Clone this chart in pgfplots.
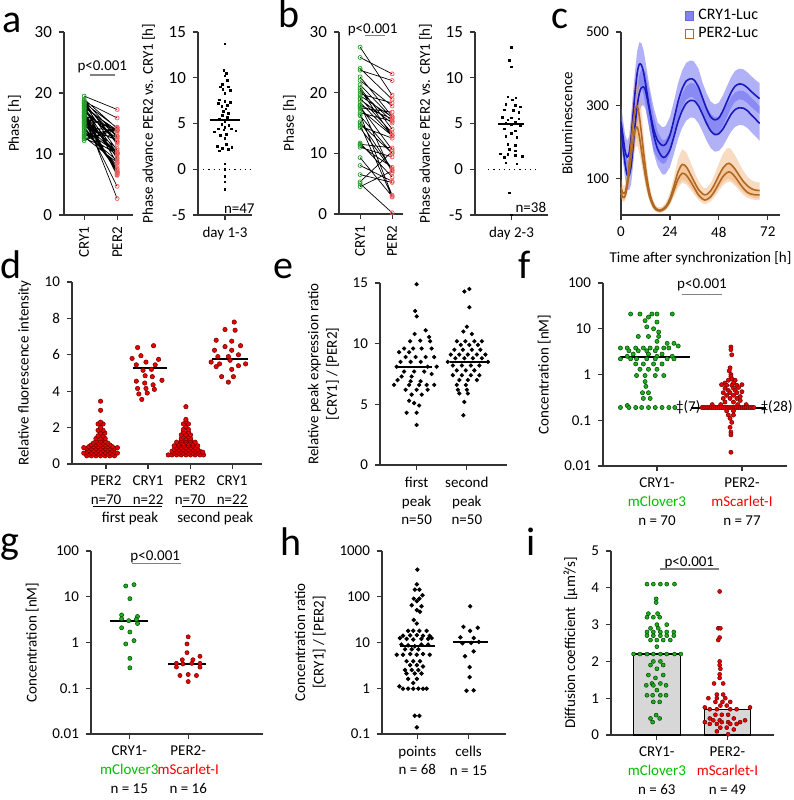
\documentclass[border=0pt]{standalone}
\usepackage{fontspec}
\setmainfont{Carlito}
\usepackage{pgfplots}
\pgfplotsset{compat=1.18}
\usepackage{pgfplotstable}

\definecolor{tgreen}{RGB}{0,190,0}
\definecolor{tred}{RGB}{250,0,0}
\definecolor{mgreen}{RGB}{30,175,30}
\definecolor{gedge}{RGB}{0,70,0}
\definecolor{mred}{RGB}{235,0,0}
\definecolor{redge}{RGB}{110,0,0}
\definecolor{cgreen}{RGB}{40,160,40}
\definecolor{cred}{RGB}{240,90,90}
\definecolor{cryline}{RGB}{25,25,190}
\definecolor{cryband}{RGB}{100,100,240}
\definecolor{perline}{RGB}{175,105,35}
\definecolor{perband}{RGB}{240,165,100}
\definecolor{barg}{RGB}{215,215,215}

\newcommand\tf{\fontsize{7.5}{9.3}\selectfont}
\newcommand\bigtf{\fontsize{8.5}{9.5}\selectfont}
\newcommand\lf{\fontsize{20}{20}\selectfont}

\tikzset{
  meanline/.style={black, line width=1pt},
  pline/.style={black!50, line width=0.6pt},
}
\pgfplotsset{
  panel/.style={scale only axis, anchor=south west,
    axis x line*=bottom, axis y line*=left,
    axis line style={line width=0.6pt, black!80},
    tick style={line width=0.6pt, black!80},
    tick align=outside, major tick length=2.5pt, clip=false,
    tick label style={font=\tf}, label style={font=\tf},
    /pgf/number format/assume math mode=true,
    yminorticks=false, xminorticks=false},
  gdot/.style={only marks, mark=*, mark size=1.1pt, mark options={fill=mgreen, draw=gedge, line width=0.25pt}},
  rdot/.style={only marks, mark=*, mark size=1.1pt, mark options={fill=mred, draw=redge, line width=0.25pt}},
  kdot/.style={only marks, mark=*, mark size=0.85pt, mark options={fill=black, draw=black}},
  sdot/.style={only marks, mark=square*, mark size=0.4pt, mark options={fill=black, draw=black}},
}

\begin{document}
\pgfplotstableread{
t u l
0 255 235
1 215 185
2 175 140
3 158 110
4 170 108
5 215 135
6 280 190
7 340 250
8 390 300
9 412 333
10 410 348
11 392 350
12 360 340
14 290 285
16 235 220
18 203 180
20 191 160
21 190 157
22 194 160
24 218 178
26 262 215
28 310 255
30 345 285
32 366 305
34 372 313
35 372 313
36 368 312
38 350 298
40 320 275
42 290 250
44 268 230
46 260 220
48 265 222
50 285 235
52 310 255
54 335 275
56 352 288
58 358 293
60 356 292
62 348 285
64 337 273
66 327 262
68 318 250
}\tcry
\pgfplotstableread{
t p q
0 75 60
1 60 48
2 62 52
3 90 75
4 140 115
5 200 160
6 255 205
7 290 235
8 298 240
9 270 215
10 225 178
11 175 140
12 130 105
13 92 75
14 62 50
15 42 34
16 28 22
17 19 15
18 15 12
19 14 11
20 15 12
22 24 20
24 45 38
26 80 68
28 118 98
30 138 114
32 132 109
34 112 93
36 90 74
38 70 55
40 58 44
41 55 41
42 56 42
44 66 50
46 85 66
48 108 86
50 128 105
52 140 116
53 141 118
54 138 116
56 125 104
58 108 88
60 92 73
62 80 62
64 72 57
66 68 55
68 67 55
}\tper
\begin{tikzpicture}
\useasboundingbox (0,0) rectangle (397pt,-400pt);
% panel letters
\node[anchor=base west, inner sep=0pt, font=\lf] at (1pt,-16pt) {a};
\node[anchor=base west, inner sep=0pt, font=\lf] at (139pt,-13.5pt) {b};
\node[anchor=base west, inner sep=0pt, font=\lf] at (275.5pt,-14pt) {c};
\node[anchor=base west, inner sep=0pt, font=\lf] at (0pt,-139pt) {d};
\node[anchor=base west, inner sep=0pt, font=\lf] at (136.5pt,-139pt) {e};
\node[anchor=base west, inner sep=0pt, font=\lf] at (259pt,-139pt) {f};
\node[anchor=base west, inner sep=0pt, font=\lf] at (0pt,-276.5pt) {g};
\node[anchor=base west, inner sep=0pt, font=\lf] at (140pt,-277.5pt) {h};
\node[anchor=base west, inner sep=0pt, font=\lf] at (263pt,-277.5pt) {i};

% ---------- a left
\begin{axis}[panel, at={(32pt,-107.5pt)}, width=34.5pt, height=91.5pt,
  xmin=-0.61, xmax=1.48, ymin=0, ymax=30, ytick={0,10,20,30},
  yticklabel style={font=\bigtf},
  xtick={0,1}, xticklabels={CRY1,PER2}, xticklabel style={rotate=90, anchor=east},
  ylabel={Phase [h]}]
\addplot[black, line width=0.35pt, unbounded coords=jump] coordinates {
(0,16.4)(1,2.7)(nan,nan)(0,15.5)(1,4.7)(nan,nan)(0,17.0)(1,6.5)(nan,nan)(0,16.8)(1,6.6)(nan,nan)
(0,16.5)(1,6.8)(nan,nan)(0,16.2)(1,6.9)(nan,nan)(0,17.5)(1,8.5)(nan,nan)(0,16.0)(1,7.0)(nan,nan)
(0,15.8)(1,7.1)(nan,nan)(0,17.8)(1,9.2)(nan,nan)(0,15.3)(1,7.0)(nan,nan)(0,18.2)(1,10.6)(nan,nan)
(0,15.0)(1,7.6)(nan,nan)(0,16.7)(1,9.4)(nan,nan)(0,14.5)(1,7.3)(nan,nan)(0,17.2)(1,10.2)(nan,nan)
(0,18.5)(1,11.6)(nan,nan)(0,14.2)(1,7.6)(nan,nan)(0,16.1)(1,10.0)(nan,nan)(0,18.8)(1,12.9)(nan,nan)
(0,13.8)(1,8.1)(nan,nan)(0,17.4)(1,11.9)(nan,nan)(0,15.6)(1,10.2)(nan,nan)(0,18.0)(1,12.8)(nan,nan)
(0,14.9)(1,10.0)(nan,nan)(0,19.0)(1,14.2)(nan,nan)(0,13.5)(1,8.9)(nan,nan)(0,16.9)(1,12.5)(nan,nan)
(0,17.9)(1,13.5)(nan,nan)(0,15.2)(1,10.9)(nan,nan)(0,12.8)(1,8.6)(nan,nan)(0,18.4)(1,14.3)(nan,nan)
(0,14.0)(1,10.2)(nan,nan)(0,17.6)(1,13.9)(nan,nan)(0,13.3)(1,9.9)(nan,nan)(0,18.6)(1,15.9)(nan,nan)
(0,14.7)(1,12.2)(nan,nan)(0,16.3)(1,13.9)(nan,nan)(0,12.6)(1,10.3)(nan,nan)(0,19.5)(1,17.3)(nan,nan)
(0,15.9)(1,13.9)(nan,nan)(0,14.4)(1,13.8)(nan,nan)(0,13.0)(1,13.0)(nan,nan)(0,13.2)(1,14.0)(nan,nan)
(0,12.5)(1,13.9)(nan,nan)(0,12.2)(1,14.4)(nan,nan)(0,18.3)(1,12.0)};
\addplot[only marks, mark=o, mark size=1pt, mark options={draw=cgreen, line width=0.35pt}] coordinates {
(0,16.4)(0,15.5)(0,17.0)(0,16.8)(0,16.5)(0,16.2)(0,17.5)(0,16.0)(0,15.8)(0,17.8)(0,15.3)(0,18.2)(0,15.0)(0,16.7)(0,14.5)(0,17.2)(0,18.5)(0,14.2)(0,16.1)(0,18.8)(0,13.8)(0,17.4)(0,15.6)(0,18.0)(0,14.9)(0,19.0)(0,13.5)(0,16.9)(0,17.9)(0,15.2)(0,12.8)(0,18.4)(0,14.0)(0,17.6)(0,13.3)(0,18.6)(0,14.7)(0,16.3)(0,12.6)(0,19.5)(0,15.9)(0,14.4)(0,13.0)(0,13.2)(0,12.5)(0,12.2)(0,18.3)};
\addplot[only marks, mark=o, mark size=1pt, mark options={draw=cred, line width=0.35pt}] coordinates {
(1,2.7)(1,4.7)(1,6.5)(1,6.6)(1,6.8)(1,6.9)(1,8.5)(1,7.0)(1,7.1)(1,9.2)(1,7.0)(1,10.6)(1,7.6)(1,9.4)(1,7.3)(1,10.2)(1,11.6)(1,7.6)(1,10.0)(1,12.9)(1,8.1)(1,11.9)(1,10.2)(1,12.8)(1,10.0)(1,14.2)(1,8.9)(1,12.5)(1,13.5)(1,10.9)(1,8.6)(1,14.3)(1,10.2)(1,13.9)(1,9.9)(1,15.9)(1,12.2)(1,13.9)(1,10.3)(1,17.3)(1,13.9)(1,13.8)(1,13.0)(1,14.0)(1,13.9)(1,14.4)(1,12.0)};
\node[font=\tf] at (axis cs:0.55,24.3) {p<0.001};
\draw[pline] (axis cs:0.18,22.95) -- (axis cs:0.94,22.95);
\end{axis}

% ---------- a right
\begin{axis}[panel, at={(99pt,-107.5pt)}, width=27pt, height=91.5pt,
  xmin=-1, xmax=1, ymin=-5, ymax=15, ytick={-5,0,5,10,15},
  yticklabel style={font=\bigtf},
  xtick={0}, xticklabels={day 1-3},
  ylabel={Phase advance PER2 vs. CRY1 [h]}]
\addplot[black, line width=0.6pt, dash pattern=on 0.6pt off 2pt] coordinates {(-0.81,0)(0.93,0)};
\addplot[meanline] coordinates {(-0.56,5.4)(0.56,5.4)};
\addplot[sdot] coordinates {
(0,13.7)(-0.04,10.8)(0.06,10.5)(0,10.2)(0.1,9.7)(-0.1,9.3)(-0.16,9.0)(0.12,9.0)(-0.08,8.7)(0.2,8.6)(0,8.3)(-0.2,7.6)(0,7.4)(0.2,7.3)(-0.24,7.2)(0.1,7.0)(-0.12,6.9)(0.04,6.6)(-0.06,6.3)(0.12,6.1)(-0.1,5.9)(0.08,5.7)(-0.2,5.5)(0.2,5.4)(0,5.2)(-0.12,4.9)(0.14,4.8)(0,4.6)(-0.24,4.4)(0.24,4.4)(-0.04,4.3)(0.4,4.2)(-0.4,4.1)(0.06,3.8)(-0.16,3.7)(0,3.4)(0.06,2.7)(-0.28,2.5)(0.26,2.4)(-0.1,2.3)(0.12,2.2)(-0.2,2.0)(0,0.6)(0,0)(0,-0.8)(0,-1.4)(0,-2.2)};
\node[font=\tf, anchor=east, inner sep=0pt] at (axis cs:1.11,-4.35) {n=47};
\end{axis}

% ---------- b left
\begin{axis}[panel, at={(169.5pt,-107pt)}, width=32pt, height=91pt,
  xmin=-0.66, xmax=1.34, ymin=0, ymax=30, ytick={0,10,20,30},
  yticklabel style={font=\bigtf},
  xtick={0,1}, xticklabels={CRY1,PER2}, xticklabel style={rotate=90, anchor=east},
  ylabel={Phase [h]}]
\addplot[black, line width=0.35pt, unbounded coords=jump] coordinates {
(0,16.4)(1,3.1)(nan,nan)(0,14.7)(1,2.8)(nan,nan)(0,18.0)(1,6.8)(nan,nan)(0,27.5)(1,19.6)(nan,nan)
(0,15.2)(1,7.4)(nan,nan)(0,20.5)(1,12.9)(nan,nan)(0,17.7)(1,10.6)(nan,nan)(0,14.2)(1,7.2)(nan,nan)
(0,22.6)(1,16.1)(nan,nan)(0,9.3)(1,2.9)(nan,nan)(0,16.2)(1,10.0)(nan,nan)(0,19.1)(1,13.4)(nan,nan)
(0,11.7)(1,6.1)(nan,nan)(0,21.3)(1,15.8)(nan,nan)(0,18.4)(1,13.0)(nan,nan)(0,24.0)(1,18.9)(nan,nan)
(0,15.0)(1,10.0)(nan,nan)(0,20.2)(1,15.3)(nan,nan)(0,5.0)(1,0.2)(nan,nan)(0,17.3)(1,12.9)(nan,nan)
(0,22.0)(1,17.8)(nan,nan)(0,18.9)(1,15.0)(nan,nan)(0,11.3)(1,7.7)(nan,nan)(0,19.5)(1,16.0)(nan,nan)
(0,25.8)(1,23.1)(nan,nan)(0,8.0)(1,5.4)(nan,nan)(0,17.9)(1,15.7)(nan,nan)(0,14.5)(1,12.5)(nan,nan)
(0,23.7)(1,22.0)(nan,nan)(0,11.0)(1,9.4)(nan,nan)(0,19.8)(1,18.3)(nan,nan)(0,16.7)(1,15.3)(nan,nan)
(0,6.5)(1,5.2)(nan,nan)(0,17.5)(1,16.8)(nan,nan)(0,11.5)(1,10.9)(nan,nan)(0,4.5)(1,7.1)(nan,nan)
(0,5.3)(1,10.3)(nan,nan)(0,20.8)(1,14.0)};
\addplot[only marks, mark=o, mark size=1pt, mark options={draw=cgreen, line width=0.35pt}] coordinates {
(0,16.4)(0,14.7)(0,18.0)(0,27.5)(0,15.2)(0,20.5)(0,17.7)(0,14.2)(0,22.6)(0,9.3)(0,16.2)(0,19.1)(0,11.7)(0,21.3)(0,18.4)(0,24.0)(0,15.0)(0,20.2)(0,5.0)(0,17.3)(0,22.0)(0,18.9)(0,11.3)(0,19.5)(0,25.8)(0,8.0)(0,17.9)(0,14.5)(0,23.7)(0,11.0)(0,19.8)(0,16.7)(0,6.5)(0,17.5)(0,11.5)(0,4.5)(0,5.3)(0,20.8)};
\addplot[only marks, mark=o, mark size=1pt, mark options={draw=cred, line width=0.35pt}] coordinates {
(1,3.1)(1,2.8)(1,6.8)(1,19.6)(1,7.4)(1,12.9)(1,10.6)(1,7.2)(1,16.1)(1,2.9)(1,10.0)(1,13.4)(1,6.1)(1,15.8)(1,13.0)(1,18.9)(1,10.0)(1,15.3)(1,0.2)(1,12.9)(1,17.8)(1,15.0)(1,7.7)(1,16.0)(1,23.1)(1,5.4)(1,15.7)(1,12.5)(1,22.0)(1,9.4)(1,18.3)(1,15.3)(1,5.2)(1,16.8)(1,10.9)(1,7.1)(1,10.3)(1,14.0)};
\node[font=\tf] at (axis cs:0.39,30.3) {p<0.001};
\draw[pline] (axis cs:0.16,29.4) -- (axis cs:0.78,29.4);
\end{axis}

% ---------- b right
\begin{axis}[panel, at={(237.5pt,-107.5pt)}, width=36.5pt, height=91.5pt,
  xmin=-1, xmax=1, ymin=-5, ymax=15, ytick={-5,0,5,10,15},
  yticklabel style={font=\bigtf},
  xtick={0}, xticklabels={day 2-3},
  ylabel={Phase advance PER2 vs. CRY1 [h]}]
\addplot[black, line width=0.6pt, dash pattern=on 0.6pt off 2pt] coordinates {(-0.64,0)(0.69,0)};
\addplot[meanline] coordinates {(-0.36,4.9)(0.35,4.9)};
\addplot[sdot] coordinates {
(0,13.3)(-0.05,11.9)(0,11.2)(-0.1,7.9)(0.12,7.8)(0.02,7.6)(-0.15,7.1)(0.1,7.0)(0.25,6.8)(-0.2,6.5)(0.05,6.4)(0.2,6.2)(-0.25,5.7)(0,5.6)(0.2,5.5)(-0.1,5.4)(0.1,5.1)(-0.15,5.0)(0,4.9)(0.25,4.8)(-0.2,4.4)(0.1,4.2)(0,3.9)(-0.15,3.6)(0.15,3.5)(-0.1,2.7)(0.1,2.6)(-0.05,2.2)(0.1,2.0)(-0.3,1.7)(-0.1,1.6)(0.1,1.5)(0.3,1.4)(-0.2,1.3)(-0.15,0.7)(0.15,0.6)(-0.05,-2.6)(0,-5.0)};
\node[font=\tf, anchor=east, inner sep=0pt] at (axis cs:0.96,-4.2) {n=38};
\end{axis}

% ---------- c
\begin{axis}[panel, at={(310.5pt,-107.5pt)}, width=79.5pt, height=91.5pt,
  xmin=0, xmax=78, ymin=0, ymax=500, xtick={0,24,48,72}, ytick={100,300,500},
  xlabel={Time after synchronization [h]}, ylabel={Bioluminescence},
  legend style={draw=none, fill=none, at={(0.40,1.15)}, anchor=north west,
    font=\fontsize{8}{8}\selectfont, row sep=-1.5pt, inner sep=0pt, cells={anchor=west}},
  legend image code/.code={\draw[#1] (0pt,-2.2pt) rectangle (4pt,2.2pt);}]
\addlegendimage{fill=cryband!80, draw=cryband, line width=0.5pt}
\addlegendentry{CRY1-Luc}
\addlegendimage{fill=white, draw=perline, line width=0.7pt}
\addlegendentry{PER2-Luc}
\addplot[fill=cryband, fill opacity=0.5, draw=none] coordinates {
(0,300)(1,260)(2,220)(3,203)(4,215)(5,275)(6,340)(7,400)(8,450)(9,472)(10,470)(11,452)(12,420)(14,350)(16,295)(18,253)(20,241)(21,240)(22,244)(24,268)(26,312)(28,360)(30,395)(32,416)(34,422)(35,422)(36,418)(38,400)(40,362)(42,332)(44,310)(46,302)(48,307)(50,327)(52,352)(54,377)(56,394)(58,400)(60,398)(62,390)(64,379)(66,369)(68,360)
(68,276)(66,285)(64,295)(62,306)(60,314)(58,316)(56,310)(54,293)(52,268)(50,243)(48,223)(46,218)(44,226)(42,248)(40,278)(38,300)(36,318)(35,322)(34,322)(32,316)(30,295)(28,260)(26,212)(24,168)(22,144)(21,140)(20,141)(18,153)(16,175)(14,230)(12,300)(11,332)(10,350)(9,352)(8,330)(7,280)(6,220)(5,155)(4,125)(3,113)(2,130)(1,170)(0,210)} -- cycle;
\addplot[fill=cryband, fill opacity=0.5, draw=none] coordinates {
(0,275)(1,225)(2,180)(3,150)(4,148)(5,185)(6,240)(7,300)(8,350)(9,383)(10,398)(11,400)(12,390)(14,335)(16,270)(18,227)(20,207)(21,204)(22,207)(24,225)(26,262)(28,302)(30,332)(32,352)(34,360)(35,360)(36,359)(38,345)(40,322)(42,297)(44,277)(46,267)(48,269)(50,282)(52,302)(54,322)(56,335)(58,340)(60,339)(62,332)(64,320)(66,309)(68,297)
(68,203)(66,215)(64,226)(62,238)(60,245)(58,246)(56,241)(54,228)(52,208)(50,188)(48,175)(46,173)(44,183)(42,203)(40,228)(38,251)(36,265)(35,266)(34,266)(32,258)(30,238)(28,208)(26,168)(24,131)(22,113)(21,110)(20,113)(18,133)(16,170)(14,235)(12,290)(11,300)(10,298)(9,283)(8,250)(7,200)(6,140)(5,85)(4,68)(3,70)(2,100)(1,145)(0,195)} -- cycle;
\addplot[fill=perband, fill opacity=0.4, draw=none] coordinates {
(0,99)(1,80)(2,82)(3,118)(4,182)(5,259)(6,329)(7,374)(8,384)(9,348)(10,290)(11,226)(12,169)(13,121)(14,82)(15,57)(16,39)(17,27)(18,22)(19,21)(20,22)(22,34)(24,61)(26,105)(28,154)(30,180)(32,172)(34,146)(36,118)(38,93)(40,77)(41,73)(42,74)(44,87)(46,112)(48,141)(50,167)(52,182)(53,183)(54,180)(56,163)(58,141)(60,121)(62,105)(64,95)(66,90)(68,89)
(68,45)(66,46)(64,49)(62,55)(60,63)(58,75)(56,87)(54,96)(53,99)(52,98)(50,89)(48,75)(46,58)(44,45)(42,38)(41,37)(40,39)(38,47)(36,62)(34,78)(32,92)(30,96)(28,82)(26,55)(24,29)(22,14)(20,8)(19,7)(18,8)(17,11)(16,17)(15,27)(14,42)(13,63)(12,91)(11,124)(10,160)(9,192)(8,212)(7,206)(6,181)(5,141)(4,98)(3,62)(2,42)(1,40)(0,51)} -- cycle;
\addplot[fill=perband, fill opacity=0.4, draw=none] coordinates {
(0,75)(1,61)(2,65)(3,93)(4,141)(5,195)(6,249)(7,285)(8,291)(9,261)(10,216)(11,171)(12,129)(13,93)(14,63)(15,44)(16,29)(17,21)(18,17)(19,16)(20,17)(22,27)(24,49)(26,85)(28,121)(30,140)(32,134)(34,115)(36,92)(38,69)(40,56)(41,52)(42,53)(44,63)(46,82)(48,106)(50,129)(52,142)(53,145)(54,142)(56,128)(58,109)(60,91)(62,77)(64,71)(66,69)(68,69)
(68,41)(66,41)(64,43)(62,47)(60,55)(58,67)(56,80)(54,90)(53,91)(52,90)(50,81)(48,66)(46,50)(44,37)(42,31)(41,30)(40,32)(38,41)(36,56)(34,71)(32,84)(30,88)(28,75)(26,51)(24,27)(22,13)(20,7)(19,6)(18,7)(17,9)(16,15)(15,24)(14,37)(13,57)(12,81)(11,109)(10,140)(9,169)(8,189)(7,185)(6,161)(5,125)(4,89)(3,57)(2,39)(1,35)(0,45)} -- cycle;
\addplot[cryline, line width=0.8pt, smooth] table[x=t, y=u] {\tcry};
\addplot[cryline, line width=0.8pt, smooth] table[x=t, y=l] {\tcry};
\addplot[perline, line width=0.8pt, smooth] table[x=t, y=p] {\tper};
\addplot[perline, line width=0.8pt, smooth] table[x=t, y=q] {\tper};
\end{axis}

% ---------- d
\begin{axis}[panel, at={(36pt,-232pt)}, width=95pt, height=91pt,
  xmin=0.19, xmax=4.71, ymin=0, ymax=10, ytick={0,2,4,6,8,10},
  xtick={1,2,3,4}, xticklabels={{PER2\\n=70},{CRY1\\n=22},{PER2\\n=70},{CRY1\\n=22}},
  xticklabel style={align=center},
  ylabel={Relative fluorescence intensity}]
\addplot[rdot, mark size=1.12pt] coordinates {
(0.54,0.45)(0.65,0.45)(0.76,0.45)(0.87,0.45)(0.98,0.45)(1.09,0.45)(1.2,0.45)
(0.59,0.55)(0.70,0.55)(0.81,0.55)(0.93,0.55)(1.04,0.55)(1.15,0.55)
(0.54,0.65)(0.65,0.65)(0.76,0.65)(0.87,0.65)(0.98,0.65)(1.09,0.65)(1.2,0.65)
(0.59,0.75)(0.70,0.75)(0.81,0.75)(0.93,0.75)(1.04,0.75)(1.15,0.75)
(0.54,0.85)(0.65,0.85)(0.76,0.85)(0.87,0.85)(0.98,0.85)(1.09,0.85)(1.2,0.85)
(0.59,0.95)(0.70,0.95)(0.81,0.95)(0.93,0.95)(1.04,0.95)(1.15,0.95)
(0.65,1.05)(0.76,1.05)(0.87,1.05)(0.98,1.05)(1.09,1.05)
(0.70,1.15)(0.81,1.15)(0.93,1.15)(1.04,1.15)
(0.76,1.25)(0.87,1.25)(0.98,1.25)
(0.76,1.4)(0.87,1.4)(0.98,1.4)
(0.81,1.55)(0.93,1.55)(0.87,1.7)(0.97,1.7)(0.81,1.85)(0.93,1.85)
(0.87,2.0)(0.81,2.2)(0.93,2.2)(0.87,2.3)(0.87,2.95)(0.87,3.45)
(0.47,0.6)(1.27,0.6)(0.47,0.9)(1.27,0.9)};
\addplot[rdot, mark size=1.12pt] coordinates {
(1.75,6.4)(2.13,6.5)(1.62,5.8)(1.83,5.95)(2.25,5.75)(1.72,5.45)(1.95,5.6)(2.17,5.45)(1.88,5.15)(2.08,5.2)(2.33,4.6)(1.93,4.85)(2.1,4.8)(1.72,4.55)(1.92,4.45)(2.12,4.35)(1.75,4.15)(1.95,4.15)(2.15,4.1)(1.78,3.85)(1.98,3.9)(1.85,3.55)};
\addplot[rdot, mark size=1.12pt] coordinates {
(2.48,0.5)(2.57,0.5)(2.68,0.5)(2.79,0.5)(2.9,0.5)(3.01,0.5)(3.12,0.5)(3.23,0.5)(3.32,0.5)
(2.62,0.6)(2.73,0.6)(2.84,0.6)(2.96,0.6)(3.07,0.6)(3.18,0.6)
(2.57,0.7)(2.68,0.7)(2.79,0.7)(2.9,0.7)(3.01,0.7)(3.12,0.7)(3.23,0.7)
(2.62,0.8)(2.73,0.8)(2.84,0.8)(2.96,0.8)(3.07,0.8)(3.18,0.8)
(2.68,0.9)(2.79,0.9)(2.9,0.9)(3.01,0.9)(3.12,0.9)
(2.62,1.0)(2.73,1.0)(2.84,1.0)(2.96,1.0)(3.07,1.0)(3.18,1.0)
(2.73,1.1)(2.84,1.1)(2.96,1.1)(3.07,1.1)
(2.68,1.2)(2.79,1.2)(2.9,1.2)(3.01,1.2)(3.12,1.2)
(2.79,1.3)(2.9,1.3)(3.01,1.3)(2.79,1.4)(2.9,1.4)(3.01,1.4)
(2.84,1.5)(2.96,1.5)(2.79,1.6)(2.9,1.6)(3.01,1.6)(2.84,1.75)(2.96,1.75)(2.84,1.9)(2.96,1.9)
(2.9,2.05)(2.84,2.2)(2.96,2.2)(2.9,2.35)(2.9,2.45)(2.9,3.15)(3.3,0.65)};
\addplot[rdot, mark size=1.12pt] coordinates {
(4.05,7.8)(3.83,7.39)(4.07,7.35)(3.62,6.8)(3.99,6.75)(4.2,6.5)(3.83,6.45)(3.58,6.25)(3.99,6.25)(4.15,6.0)(3.91,5.9)(3.66,5.9)(3.5,5.6)(3.7,5.5)(3.95,5.7)(4.32,5.5)(4.15,5.4)(3.62,5.35)(3.99,5.2)(3.75,4.8)(4.03,4.8)(3.91,4.5)};
\addplot[meanline] coordinates {(0.57,0.85)(1.21,0.85)};
\addplot[meanline] coordinates {(1.64,5.25)(2.45,5.25)};
\addplot[meanline] coordinates {(2.57,0.75)(3.24,0.75)};
\addplot[meanline] coordinates {(3.52,5.75)(4.38,5.75)};
\draw[black, line width=0.5pt] (axis cs:0.69,-2.36) -- (axis cs:2.33,-2.36);
\draw[black, line width=0.5pt] (axis cs:2.81,-2.36) -- (axis cs:4.38,-2.36);
\node[font=\tf] at (axis cs:1.57,-3.0) {first peak};
\node[font=\tf] at (axis cs:3.6,-3.0) {second peak};
\end{axis}

% ---------- e
\begin{axis}[panel, at={(190pt,-232.5pt)}, width=63.5pt, height=91pt,
  xmin=0.27, xmax=2.8, ymin=0, ymax=15, ytick={0,5,10,15},
  xtick={1,2}, xticklabels={{first\\peak\\n=50},{second\\peak\\n=50}},
  xticklabel style={align=center},
  ylabel={Relative peak expression ratio\\{[CRY1] / [PER2]}}, ylabel style={align=center}]
\addplot[kdot] coordinates {
(1.0,14.9)(0.97,12.7)(1.0,12.25)(1.18,11.1)(0.96,10.8)(1.25,10.55)
(0.87,10.2)(1.07,10.25)(1.27,10.2)
(0.75,9.6)(0.93,9.6)(1.1,9.6)(1.3,9.6)
(0.65,9.3)(0.85,9.3)
(0.78,8.9)(0.98,8.9)(1.18,8.9)(1.35,8.9)
(0.68,8.5)(0.88,8.5)(1.08,8.5)
(0.6,8.1)(1.22,8.1)(1.4,8.1)
(0.75,7.7)(0.95,7.7)(1.15,7.7)
(0.7,7.3)(0.9,7.3)(1.3,7.5)(0.62,7.0)
(0.88,6.9)(1.08,6.9)
(0.55,6.6)(0.85,6.6)(1.05,6.6)(1.2,6.6)(1.35,6.6)
(0.78,6.2)(1.0,6.2)(1.22,6.2)
(0.9,5.8)(1.1,5.8)
(0.85,5.3)(0.95,5.1)(1.05,4.9)
(0.8,4.3)(1.0,4.3)
(1.0,3.3)};
\addplot[kdot] coordinates {
(2.05,14.5)(1.95,14.3)(2.05,13.0)(2.0,11.4)(1.93,11.0)(2.1,10.8)
(1.8,10.2)(1.97,10.2)(2.15,10.2)(2.3,10.2)
(1.88,9.9)(2.05,9.9)(2.22,9.9)
(1.75,9.5)(1.92,9.5)(2.1,9.5)(2.27,9.5)
(1.68,9.1)(1.85,9.1)(2.02,9.1)(2.2,9.1)(2.37,9.1)
(1.77,8.8)(1.95,8.8)(2.12,8.8)(2.3,8.8)
(1.62,8.5)(2.42,8.5)
(1.72,8.2)(1.9,8.2)(2.08,8.2)(2.25,8.2)
(1.8,7.8)(1.98,7.8)(2.15,7.8)
(1.72,7.4)(1.9,7.4)(2.08,7.4)(2.25,7.4)
(1.85,7.0)(2.02,7.0)(2.2,7.0)
(1.8,6.6)(1.98,6.6)
(1.82,6.2)(2.0,6.2)
(1.85,5.9)(2.02,5.9)
(1.95,5.2)(1.93,4.1)};
\addplot[meanline] coordinates {(0.63,8.1)(1.31,8.1)};
\addplot[meanline] coordinates {(1.67,8.5)(2.4,8.5)};
\end{axis}

% ---------- f
\begin{axis}[panel, at={(301.5pt,-233pt)}, width=92pt, height=91.5pt,
  ymode=log, ymin=0.01, ymax=100, ytick={0.01,0.1,1,10,100}, yticklabels={0.01,0.1,1,10,100},
  xmin=0.365, xmax=2.53, xtick={1,2},
  xticklabels={{CRY1-\\\textcolor{tgreen}{mClover3}\\n = 70},{PER2-\\\textcolor{tred}{mScarlet-I}\\n = 77}},
  xticklabel style={align=center},
  ylabel={Concentration [nM]}]
\addplot[gdot, mark size=1.05pt] coordinates {
(0.69,21)(0.8,21)(0.94,21)(1.0,21)(1.18,21)
(0.9,18)(0.86,15)(1.0,14)(0.88,11)(0.96,10)(1.02,8.5)
(0.9,6.8)(0.78,6.8)(1.02,6.8)(1.0,5.3)(1.12,4.8)(1.2,4.8)(1.25,4.2)
(0.57,3.8)(0.65,3.8)(0.75,3.8)(0.84,3.8)(0.92,3.8)(1.0,3.8)(1.08,3.8)(1.14,3.8)
(0.67,3.3)(0.78,3.3)(0.88,3.3)(0.98,3.3)
(0.72,2.8)(0.9,2.8)(1.06,2.8)
(0.65,2.5)(1.0,2.5)(1.18,2.5)
(0.57,2.2)(0.69,2.2)(0.76,2.2)(0.88,2.2)(0.98,2.2)(1.12,2.2)(1.2,2.2)
(0.75,1.7)(0.84,1.7)(0.96,1.7)(1.06,1.7)
(0.8,1.3)(0.9,1.3)(1.0,1.3)
(0.76,0.95)(0.86,0.95)(0.98,0.95)(1.08,0.95)
(0.86,0.7)(0.87,0.55)(0.83,0.4)(0.9,0.4)(0.84,0.3)(0.92,0.3)(0.65,0.21)
(0.57,0.19)(0.67,0.19)(0.75,0.19)(0.82,0.19)(0.9,0.19)(0.98,0.19)(1.06,0.19)(1.14,0.19)(1.21,0.19)};
\addplot[rdot, mark size=1.05pt] coordinates {
(1.87,4.0)(1.87,3.5)(1.88,2.7)(1.86,1.4)(1.85,1.2)(1.87,1.0)(1.87,0.9)(1.88,0.8)
(1.84,0.75)(1.92,0.75)(1.8,0.65)(1.9,0.65)(1.76,0.6)(2.0,0.6)
(1.82,0.58)(1.88,0.58)(1.94,0.58)(1.96,0.52)(1.8,0.5)(1.9,0.5)
(1.84,0.45)(1.92,0.45)(2.0,0.42)(1.78,0.4)(1.86,0.4)(1.94,0.4)
(1.82,0.35)(1.9,0.35)(1.98,0.33)(1.78,0.3)(1.86,0.3)(1.94,0.3)(1.98,0.27)
(1.8,0.25)(1.9,0.25)(1.65,0.22)(1.75,0.22)(1.95,0.22)(2.05,0.22)
(1.53,0.19)(1.553,0.19)(1.575,0.19)(1.598,0.19)(1.62,0.19)(1.643,0.19)(1.666,0.19)(1.688,0.19)(1.71,0.19)(1.733,0.19)(1.756,0.19)(1.778,0.19)(1.8,0.19)(1.824,0.19)(1.846,0.19)(1.869,0.19)(1.892,0.19)(1.914,0.19)(1.937,0.19)(1.96,0.19)(1.982,0.19)(2.005,0.19)(2.028,0.19)(2.05,0.19)(2.073,0.19)(2.096,0.19)(2.118,0.19)(2.14,0.19)
(1.82,0.16)(1.9,0.16)(1.84,0.13)(1.9,0.13)(1.86,0.11)(1.88,0.09)(1.86,0.07)(1.87,0.055)(1.87,0.048)(1.87,0.02)};
\addplot[meanline] coordinates {(0.56,2.4)(1.39,2.4)};
\addplot[meanline] coordinates {(1.4,0.19)(2.28,0.19)};
\node[font=\tf, anchor=east, inner sep=0pt] at (axis cs:1.515,0.19) {‡(7)};
\node[font=\tf, anchor=east, inner sep=0pt] at (axis cs:2.6,0.19) {‡(28)};
\node[font=\tf] at (axis cs:1.53,93) {p<0.001};
\draw[pline] (axis cs:1.29,56) -- (axis cs:1.77,56);
\end{axis}

% ---------- g
\begin{axis}[panel, at={(45.5pt,-367pt)}, width=86pt, height=91.5pt,
  ymode=log, ymin=0.01, ymax=100, ytick={0.01,0.1,1,10,100}, yticklabels={0.01,0.1,1,10,100},
  xmin=0.35, xmax=3.27, xtick={1,2},
  xticklabels={{CRY1-\\\textcolor{tgreen}{mClover3}\\n = 15},{PER2-\\\textcolor{tred}{mScarlet-I}\\n = 16}},
  xticklabel style={align=center},
  ylabel={Concentration [nM]}]
\addplot[gdot, mark size=1.05pt] coordinates {
(0.94,17.2)(1.08,18.4)(1.01,9.1)(0.87,4.0)(0.87,3.3)(1.14,3.7)(1.12,3.2)(0.99,3.0)(0.87,2.1)(1.14,2.6)(1.01,1.7)(1.08,1.1)(0.94,0.93)(1.01,0.45)(1.01,0.28)};
\addplot[rdot, mark size=1.05pt] coordinates {
(2.0,1.33)(1.98,0.93)(1.98,0.6)(1.9,0.42)(2.08,0.42)(2.2,0.5)(1.8,0.35)(1.91,0.34)(2.06,0.35)(2.2,0.35)(1.8,0.29)(2.2,0.29)(1.86,0.19)(2.14,0.19)(2.0,0.2)(2.0,0.14)};
\addplot[meanline] coordinates {(0.67,2.9)(1.32,2.9)};
\addplot[meanline] coordinates {(1.66,0.34)(2.31,0.34)};
\node[font=\tf] at (axis cs:1.44,73) {p<0.001};
\draw[pline] (axis cs:1.04,54) -- (axis cs:1.88,54);
\end{axis}

% ---------- h
\begin{axis}[panel, at={(191pt,-367pt)}, width=62pt, height=91.5pt,
  ymode=log, ymin=0.1, ymax=1000, ytick={0.1,1,10,100,1000}, yticklabels={0.1,1,10,100,1000},
  xmin=0.31, xmax=2.73, xtick={1,2},
  xticklabels={{points\\n = 68},{cells\\n = 15}},
  xticklabel style={align=center},
  ylabel={Concentration ratio\\{[CRY1] / [PER2]}}, ylabel style={align=center}]
\addplot[kdot, mark size=0.9pt] coordinates {
(1.0,391)(0.99,187)(0.95,143)(1.04,143)(1.1,108)(0.93,91)(1.04,91)(0.99,80)(0.89,65)(1.08,62)(0.99,51)(1.05,47)(0.93,31)(0.99,26)
(0.82,18)(0.92,18)(1.04,18)(1.18,18)
(0.72,14)(0.86,14.3)(0.99,14.5)(1.11,14)(1.24,14)
(0.66,12.5)(0.79,12)(0.92,11.6)(1.08,12)(1.21,12)(1.28,12.5)
(0.69,9)(0.82,8.7)(0.95,8.3)(1.08,9)(1.21,9)
(0.76,7.1)(0.89,7.1)(1.02,7.1)
(0.6,5.4)(0.72,5.4)(0.86,5.6)(0.99,5.4)(1.11,5.6)(1.24,5.4)
(0.79,3.9)(0.92,3.9)(1.05,3.9)
(0.86,3.2)(0.99,3.2)(1.11,3.0)
(0.76,2.5)(0.89,2.5)(1.02,2.5)
(0.79,2.1)(0.95,2.1)(1.08,2.1)
(0.82,1.6)(0.99,1.6)(0.92,1.3)(0.65,1.1)
(0.72,0.98)(0.82,0.98)(0.92,0.98)(1.02,0.98)(1.11,0.98)(1.18,0.98)
(0.95,0.25)(1.04,0.25)(0.99,0.14)};
\addplot[kdot, mark size=0.9pt] coordinates {
(2.03,62)(1.9,22)(2.18,21)(2.03,18)(1.84,13)(2.1,12.5)(1.88,9.6)(2.05,9.8)(2.2,10.3)(1.93,5.0)(2.1,6.4)(2.02,2.9)(2.02,1.75)(1.96,0.88)(2.1,0.9)};
\addplot[meanline] coordinates {(0.66,8.2)(1.35,8.2)};
\addplot[meanline] coordinates {(1.7,10.2)(2.38,10.2)};
\end{axis}

% ---------- i
\begin{axis}[panel, at={(305.5pt,-367.5pt)}, width=81.5pt, height=92pt,
  ymin=0, ymax=5, ytick={0,1,2,3,4,5},
  xmin=0.35, xmax=2.66, xtick={1,2},
  xticklabels={{CRY1-\\\textcolor{tgreen}{mClover3}\\n = 63},{PER2-\\\textcolor{tred}{mScarlet-I}\\n = 49}},
  xticklabel style={align=center},
  ylabel={Diffusion coefficient\ \ [µm²/s]}]
\addplot[ybar, bar width=0.66, bar shift=0pt, fill=barg, draw=black, line width=0.6pt] coordinates {(1,2.2)(2,0.7)};
\addplot[gdot, mark size=1.0pt] coordinates {
(0.86,4.1)(0.95,4.1)(1.05,4.1)(1.14,4.1)(1.25,4.1)
(0.99,3.7)(0.99,3.6)(0.88,3.3)(1.01,3.3)(0.86,3.2)(0.95,3.2)(1.04,3.2)
(1.0,3.0)(1.14,3.0)(0.91,2.9)(1.02,2.9)
(0.86,2.8)(0.95,2.8)(1.05,2.8)(1.14,2.8)(1.24,2.8)
(0.86,2.7)(0.95,2.7)(1.05,2.7)(1.14,2.7)(1.24,2.7)
(0.91,2.58)(1.0,2.58)(1.09,2.58)(1.19,2.58)(1.0,2.4)
(0.67,2.2)(0.76,2.2)(0.86,2.2)(0.95,2.2)(1.05,2.2)(1.14,2.2)(1.25,2.2)(1.34,2.2)
(0.95,2.0)(1.05,2.0)(0.91,1.9)(1.09,1.9)(1.0,1.8)(0.88,1.63)(1.09,1.63)(0.98,1.55)
(0.93,1.4)(1.05,1.4)(0.85,1.35)(0.95,1.35)(1.13,1.35)(1.0,1.22)
(0.86,1.08)(0.94,1.08)(1.05,1.08)(1.13,1.08)(0.95,0.9)(1.04,0.9)
(0.99,0.54)(0.91,0.45)(1.04,0.45)(0.94,0.35)};
\addplot[rdot, mark size=1.0pt] coordinates {
(1.89,3.9)(1.87,2.9)(1.9,2.9)(1.89,2.65)(1.87,2.58)(1.89,2.0)(1.89,1.9)(1.9,1.8)(1.89,1.65)(1.89,1.55)
(1.81,1.4)(1.94,1.4)(1.85,1.1)(1.94,1.1)(1.73,1.0)(1.85,1.0)(1.97,1.0)
(1.83,0.9)(1.93,0.9)(2.04,0.9)(1.9,0.8)(1.99,0.8)(1.68,0.75)(2.32,0.75)
(1.75,0.7)(1.85,0.7)(2.04,0.7)(2.13,0.7)(1.83,0.55)(1.92,0.55)(2.01,0.55)
(1.75,0.45)(2.09,0.45)(1.8,0.4)(1.89,0.4)(2.25,0.4)
(1.68,0.35)(1.92,0.35)(2.01,0.35)(2.18,0.35)(1.75,0.3)(1.85,0.3)(2.04,0.3)(2.13,0.3)
(1.9,0.2)(1.99,0.2)(2.09,0.15)(1.85,0.1)(2.01,0.02)};
\node[font=\tf] at (axis cs:1.46,4.68) {p<0.001};
\draw[pline] (axis cs:1.05,4.51) -- (axis cs:1.88,4.51);
\end{axis}
\end{tikzpicture}
\end{document}
